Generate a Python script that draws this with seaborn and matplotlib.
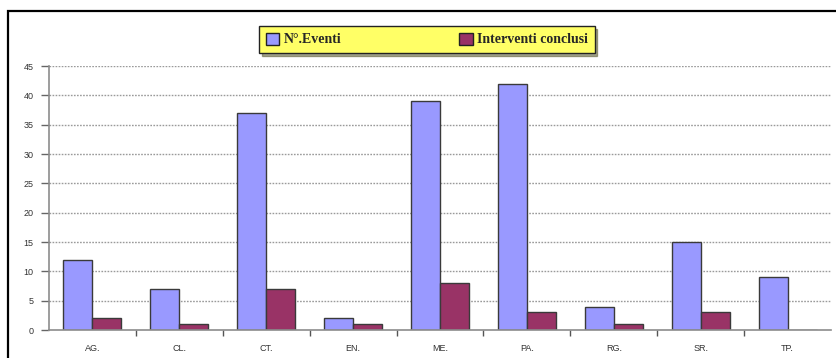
import numpy as np
import pandas as pd
import seaborn as sns
import matplotlib.pyplot as plt
from matplotlib.patches import Rectangle

# province sigle and values
province = ["AG.", "CL.", "CT.", "EN.", "ME.", "PA.", "RG.", "SR.", "TP."]
eventi = [12, 7, 37, 2, 39, 42, 4, 15, 9]
interventi = [2, 1, 7, 1, 8, 3, 1, 3, 0]
series = ["N°.Eventi", "Interventi conclusi"]
colors = ["#9999FF", "#993366"]

sns.set_style("white")
plt.rcParams['font.family'] = ['Liberation Sans', 'DejaVu Sans']

df = pd.DataFrame({
    "provincia": province * 2,
    "serie": [series[0]] * len(province) + [series[1]] * len(province),
    "valore": eventi + interventi,
})

fig = plt.figure(figsize=(8.37, 3.58), dpi=100)
ax = fig.add_axes([49 / 837, 1 - 330 / 358, (831 - 49) / 837, (330 - 66) / 358])

sns.barplot(data=df, x="provincia", y="valore", hue="serie", palette=colors,
            width=0.667, gap=0, edgecolor="#3a3a3a", linewidth=1,
            saturation=1, ax=ax, legend=True)

ax.set_xlim(-0.5, len(province) - 0.5)
ax.set_ylim(0, 45)
ax.set_yticks(np.arange(0, 46, 5))
ax.set_xlabel("")
ax.set_ylabel("")

for y in range(5, 46, 5):
    ax.axhline(y, color="#9a9a9a", lw=1, ls=(0, (1.2, 1.0)), zorder=0)

for s in ["top", "right"]:
    ax.spines[s].set_visible(False)
for s in ["left", "bottom"]:
    ax.spines[s].set_color("#8c8c8c")
    ax.spines[s].set_linewidth(1.2)

ax.tick_params(axis="y", length=6, width=1, color="#666666", labelsize=6.5,
               labelcolor="#333333", pad=5, direction="out", left=True)
ax.tick_params(axis="x", which="major", length=0, labelsize=6.5,
               labelcolor="#333333", pad=10)
ax.set_xticks(np.arange(0.5, len(province) - 1, 1), minor=True)
ax.tick_params(axis="x", which="minor", length=4, width=1, color="#555555",
               direction="out", bottom=True)

handles, labels = ax.get_legend_handles_labels()
ax.legend_.remove()
leg = fig.legend(handles, labels, loc="center", bbox_to_anchor=(427 / 837, 1 - 39.5 / 358),
                 ncol=2, frameon=True, fancybox=False, shadow=True,
                 prop={"family": "Liberation Serif", "weight": "bold", "size": 10},
                 handlelength=1.0, handleheight=1.0, handletextpad=0.3,
                 columnspacing=8.5, borderpad=0.45, borderaxespad=0)
leg.get_frame().set_facecolor("#FFFF66")
leg.get_frame().set_edgecolor("#222222")
leg.get_frame().set_linewidth(1)
for h in leg.legend_handles:
    h.set_edgecolor("#222222")

# outer black frame, only the top and left sides fall inside the picture
fig.patches.append(Rectangle((8 / 837, -0.1), 1.2, 1 - 11 / 358 + 0.1,
                             transform=fig.transFigure, fill=False,
                             edgecolor="black", lw=1.6, clip_on=False))

fig.savefig("out.png", dpi=100)
